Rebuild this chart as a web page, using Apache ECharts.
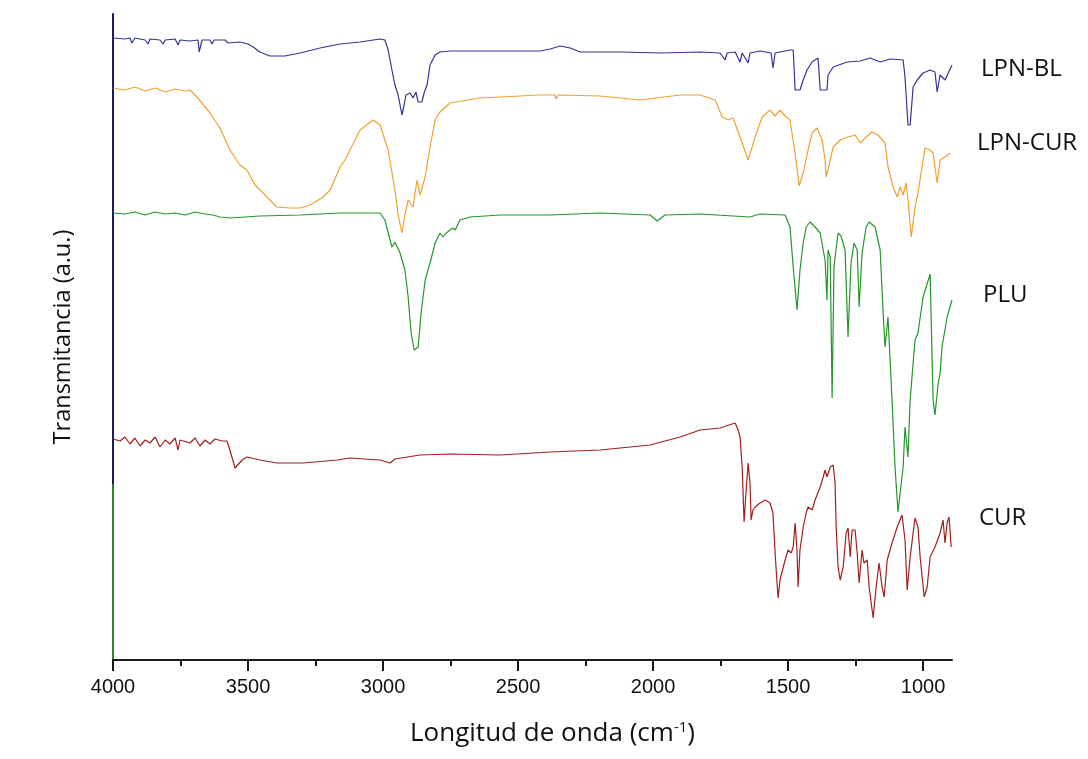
<!DOCTYPE html>
<html>
<head>
<meta charset="utf-8">
<script src="https://cdn.jsdelivr.net/npm/echarts@6/dist/echarts.min.js"></script>
<style>
html,body{margin:0;padding:0;background:#fff;}
#chart{width:1088px;height:759px;}
</style>
</head>
<body>
<div id="chart"></div>
<script>
// ---- data (wavenumber cm^-1, transmittance a.u.) ----
const seriesNames = ['LPN-BL', 'LPN-CUR', 'PLU', 'CUR'];
const majorTicks = [4000, 3500, 3000, 2500, 2000, 1500, 1000];
const minorTicks = [3750, 3250, 2750, 2250, 1750, 1250];

const blWn = [4000,3956,3937,3930,3919,3881,3870,3863,3826,3815,3807,3770,3759,3752,3715,3685,3681,3674,3670,3641,3633,3626,3585,3574,3567,3530,3500,3481,3456,3419,3363,3307,3233,3159,3085,3011,2993,2981,2967,2956,2944,2937,2930,2922,2915,2900,2889,2878,2870,2856,2848,2837,2826,2807,2789,2752,2567,2419,2381,2344,2307,2270,2122,1974,1826,1752,1733,1726,1696,1678,1670,1648,1641,1604,1563,1556,1548,1493,1481,1474,1456,1444,1430,1411,1389,1381,1356,1352,1333,1281,1233,1196,1159,1122,1074,1067,1056,1048,1037,1022,1000,974,956,948,937,919,893];
const blT  = [622,621,622,617,622,620,616,621,620,616,620,621,615,620,619,620,608,608,620,620,616,620,620,617,619,618,616,613,608,604,604,607,612,616,618,621,620,610,590,575,565,555,545,555,565,567,562,568,558,558,567,575,595,605,608,609,609,609,611,614,612,608,608,607,608,607,600,607,608,598,607,597,607,609,607,592,607,610,610,570,570,580,590,598,602,570,570,585,593,598,599,602,598,601,600,583,535,535,573,580,587,590,588,568,585,580,595];

const curLpnWn = [4000,3956,3919,3881,3844,3807,3770,3733,3715,3689,3641,3604,3567,3530,3504,3474,3444,3419,3393,3344,3307,3270,3222,3196,3159,3141,3085,3037,3011,2981,2956,2944,2930,2919,2907,2889,2874,2863,2844,2826,2807,2789,2752,2641,2419,2363,2359,2352,2196,2048,1900,1826,1770,1744,1722,1704,1678,1648,1622,1596,1567,1548,1530,1511,1493,1474,1459,1444,1426,1411,1393,1374,1363,1359,1344,1333,1307,1278,1252,1233,1215,1189,1167,1141,1130,1111,1096,1085,1074,1063,1056,1044,1030,1019,1004,993,974,963,948,937,919,900];
const curLpnT  = [572,570,573,569,572,568,571,569,570,563,547,532,510,495,490,475,467,460,453,452,452,455,463,470,493,500,530,540,535,510,470,445,427,445,460,453,480,465,483,513,540,548,557,562,565,565,561,565,564,560,565,565,560,543,540,542,523,500,523,543,550,544,550,544,540,507,474,487,510,527,532,520,500,483,500,513,520,523,525,517,522,528,525,517,493,473,463,473,465,477,460,423,453,467,493,512,510,507,477,500,503,507];

const pluWn = [4000,3956,3919,3881,3844,3807,3770,3733,3696,3659,3630,3604,3567,3511,3456,3307,3159,3011,2993,2974,2967,2956,2937,2919,2907,2896,2885,2878,2870,2859,2844,2826,2807,2789,2778,2770,2752,2741,2733,2715,2678,2567,2381,2196,2011,1985,1956,1826,1641,1604,1511,1493,1481,1467,1456,1444,1433,1419,1400,1381,1370,1363,1356,1352,1344,1337,1330,1315,1304,1289,1278,1267,1256,1244,1237,1226,1211,1200,1178,1159,1148,1141,1130,1115,1104,1093,1074,1067,1056,1048,1030,1019,1000,974,963,956,944,937,930,911,893];
const pluT  = [447,446,448,445,448,446,447,445,448,446,445,443,442,443,444,445,447,447,440,420,413,418,407,390,363,327,310,309,313,347,380,397,417,427,423,426,430,432,430,440,443,445,445,447,445,439,445,446,443,446,445,433,393,350,390,417,433,438,433,427,410,400,360,410,403,262,393,427,424,410,323,397,417,410,353,407,433,438,433,410,347,313,343,260,193,148,193,233,203,260,320,327,363,386,260,245,277,287,313,343,360];

const curWn = [4000,3974,3956,3937,3919,3900,3881,3863,3844,3826,3807,3789,3770,3759,3752,3715,3696,3678,3659,3641,3622,3596,3578,3567,3548,3522,3504,3456,3393,3296,3170,3122,3011,2974,2956,2863,2752,2567,2381,2196,2011,1900,1826,1752,1696,1685,1678,1670,1663,1656,1648,1641,1637,1630,1622,1604,1585,1567,1556,1548,1541,1537,1530,1511,1500,1489,1481,1474,1467,1463,1456,1444,1433,1426,1411,1400,1381,1370,1363,1356,1344,1333,1326,1322,1315,1307,1296,1285,1278,1270,1263,1252,1244,1237,1226,1219,1207,1200,1185,1174,1163,1152,1144,1133,1115,1096,1078,1067,1059,1048,1037,1030,1019,1011,996,985,974,956,937,926,919,911,904,896];
const curT  = [221,219,223,216,222,214,220,217,223,213,220,216,222,210,220,217,222,214,220,216,221,219,219,210,192,200,203,200,197,197,200,202,200,197,201,205,206,205,208,210,215,223,230,232,237,230,223,193,138,167,197,177,140,150,153,157,160,157,147,107,77,62,80,100,110,107,113,137,110,73,110,133,147,153,150,160,173,183,190,183,193,195,177,133,93,80,93,127,132,103,130,130,107,77,110,97,100,73,42,73,97,73,63,100,117,133,145,120,70,103,127,142,133,103,63,73,103,113,127,140,117,137,143,113];

const colors = ['#34349a', '#f2a02e', '#24962a', '#a0201e'];
const labelText = ['LPN-BL', 'LPN-CUR', 'PLU', 'CUR'];

function pairs(w, t) { return w.map((v, i) => [v, t[i]]); }
const allData = [pairs(blWn, blT), pairs(curLpnWn, curLpnT), pairs(pluWn, pluT), pairs(curWn, curT)];

const chart = echarts.init(document.getElementById('chart'), null, {renderer: 'canvas'});

const xCommon = {
  type: 'value', min: 893, max: 4000, inverse: true,
  splitLine: {show: false}
};

const option = {
  backgroundColor: '#ffffff',
  animation: false,
  grid: [
    {left: 113, right: 136, top: 14, bottom: 99},
    {left: 113, right: 136, top: 485, bottom: 99}
  ],
  xAxis: [
    Object.assign({}, xCommon, {
      gridIndex: 0,
      axisLine: {show: true, onZero: false, lineStyle: {color: '#1a1a1a', width: 2}},
      axisTick: {show: true, length: 11, lineStyle: {color: '#1a1a1a', width: 2}, customValues: majorTicks},
      axisLabel: {show: true, customValues: majorTicks, margin: 17, color: '#111', fontSize: 20, fontFamily: 'Liberation Sans',
        formatter: v => String(v)},
      name: 'Longitud de onda (cm{sup|-1})',
      nameLocation: 'middle',
      nameGap: 60,
      nameTextStyle: {
        fontFamily: 'Open Sans', fontSize: 26, color: '#111', padding: [0, 0, 0, 40],
        rich: {sup: {fontFamily: 'Open Sans', fontSize: 15, color: '#111', verticalAlign: 'bottom', padding: [0, 0, 12, 0]}}
      }
    }),
    Object.assign({}, xCommon, {
      gridIndex: 1,
      axisLine: {show: false},
      axisTick: {show: true, length: 6, lineStyle: {color: '#1a1a1a', width: 2}, customValues: minorTicks},
      axisLabel: {show: false}
    })
  ],
  yAxis: [
    {
      type: 'value', gridIndex: 0, min: 0, max: 646,
      axisLine: {show: true, onZero: false, lineStyle: {color: '#1c1c5e', width: 2}},
      axisTick: {show: false}, axisLabel: {show: false}, splitLine: {show: false},
      name: 'Transmitancia (a.u.)', nameLocation: 'middle', nameGap: 38, nameRotate: 90,
      nameTextStyle: {fontFamily: 'Open Sans', fontSize: 23.5, color: '#111', padding: [0, 0, 0, 0]}
    },
    {
      type: 'value', gridIndex: 1, min: 0, max: 1,
      axisLine: {show: true, onZero: false, lineStyle: {color: '#2a8a2a', width: 2}},
      axisTick: {show: false}, axisLabel: {show: false}, splitLine: {show: false}
    }
  ],
  series: allData.map((d, i) => ({
    name: seriesNames[i], type: 'line', xAxisIndex: 0, yAxisIndex: 0,
    data: d, showSymbol: false, symbol: 'none', smooth: false,
    lineStyle: {color: colors[i], width: 1.2}, z: 3
  })),
  graphic: [
    {type: 'text', left: 981, top: 57, style: {text: labelText[0], font: '24px "Open Sans"', fill: '#111'}},
    {type: 'text', left: 977, top: 131, style: {text: labelText[1], font: '24px "Open Sans"', fill: '#111'}},
    {type: 'text', left: 983, top: 283, style: {text: labelText[2], font: '24px "Open Sans"', fill: '#111'}},
    {type: 'text', left: 979, top: 506, style: {text: labelText[3], font: '24px "Open Sans"', fill: '#111'}}
  ]
};
chart.setOption(option);
</script>
</body>
</html>
